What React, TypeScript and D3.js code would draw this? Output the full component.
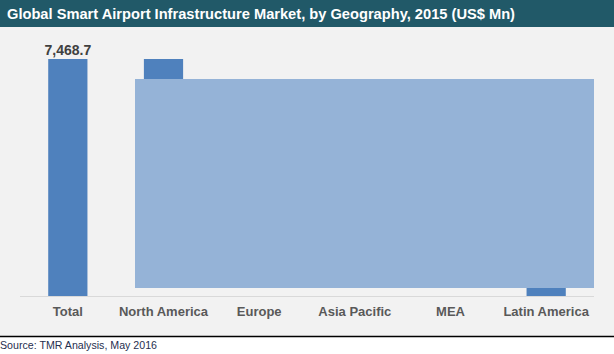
import React from "react";
import * as d3 from "d3";

const TITLE = "Global Smart Airport Infrastructure Market, by Geography, 2015 (US$ Mn)";
const SOURCE = "Source: TMR Analysis, May 2016";
const categories = ["Total", "North America", "Europe", "Asia Pacific", "MEA", "Latin America"];
const totalValue = 7468.7;
const regionValues = [2568.4, 2016.5, 1956.2, 478.9, 448.7];
const totalLabel = "7,468.7";

const W = 614;
const H = 354;

export default function App() {
  const x = d3.scaleBand<string>().domain(categories).range([20, 594]).paddingInner(0.59).paddingOuter(0.295);
  const y = d3.scaleLinear().domain([0, totalValue]).range([296, 59]);

  // waterfall segments
  const segs: { cat: string; y0: number; y1: number }[] = [];
  segs.push({ cat: categories[0], y0: 0, y1: totalValue });
  let cum = totalValue;
  regionValues.forEach((v, i) => {
    segs.push({ cat: categories[i + 1], y0: cum - v, y1: cum });
    cum -= v;
  });

  return (
    <svg width={W} height={H} style={{ position: "absolute", left: 0, top: 0 }} fontFamily="'Liberation Sans', Arial, sans-serif">
      <rect x={0} y={0} width={W} height={H} fill="#ffffff" />
      <rect x={0} y={27} width={W} height={309} fill="#f2f2f2" />
      <rect x={0} y={0} width={W} height={27} fill="#215968" />
      <text x={7} y={19} fill="#ffffff" fontSize={15} fontWeight="bold" textLength={508} lengthAdjust="spacingAndGlyphs">
        {TITLE}
      </text>
      <line x1={0} x2={W} y1={336.5} y2={336.5} stroke="#000000" strokeWidth={1.5} />
      <text x={0} y={349} fill="#1f2f4f" fontSize={11} textLength={157} lengthAdjust="spacingAndGlyphs">
        {SOURCE}
      </text>

      {segs.map((s) => (
        <rect
          key={s.cat}
          x={x(s.cat)}
          width={x.bandwidth()}
          y={y(s.y1)}
          height={y(s.y0) - y(s.y1)}
          fill="#4f81bd"
        />
      ))}

      {/* occluding overlay */}
      <rect x={135} y={79} width={459} height={209} fill="#95b3d7" />

      <line x1={20} x2={594} y1={296.5} y2={296.5} stroke="#d9d9d9" strokeWidth={1} />

      <text
        x={(x(categories[0]) as number) + x.bandwidth() / 2}
        y={y(totalValue) - 4}
        textAnchor="middle"
        fontSize={14}
        fontWeight="bold"
        fill="#404040"
      >
        {totalLabel}
      </text>

      {categories.map((c) => (
        <text
          key={c}
          x={(x(c) as number) + x.bandwidth() / 2}
          y={316}
          textAnchor="middle"
          fontSize={13}
          fontWeight="bold"
          fill="#595959"
        >
          {c}
        </text>
      ))}
    </svg>
  );
}
